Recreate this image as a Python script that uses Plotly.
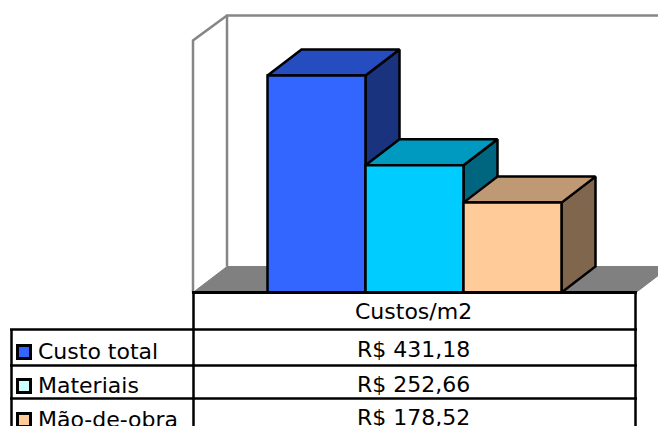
import plotly.graph_objects as go

# --- data ---
categories = ["Custo total", "Materiais", "Mão-de-obra"]
values = [431.18, 252.66, 178.52]
table_header = "Custos/m2"
table_labels = ["R$ 431,18", "R$ 252,66", "R$ 178,52"]
front_colors = ["#3366FF", "#00CCFF", "#FFCC99"]
top_colors = ["#264DBF", "#0099BF", "#BF9973"]
side_colors = ["#1A337F", "#006680", "#80664D"]
key_colors = ["#3366FF", "#CCFFFF", "#FFCC99"]

W, H = 658, 426
BASE_PX = 292.5          # pixel row of value 0
PX_PER_UNIT = 0.5035     # pixels per value unit
BAR_PX = 98.0            # pixels per category
CENTER0_PX = 316.5       # pixel column of the first bar's centre
DX_PX, DY_PX = 34.0, 26.0

def px(v):
    return (v - CENTER0_PX) / BAR_PX

def py(v):
    return (BASE_PX - v) / PX_PER_UNIT

ddx = DX_PX / BAR_PX
ddy = DY_PX / PX_PER_UNIT
LINE = dict(color="black", width=2.5)
GREY = "#868686"

fig = go.Figure()

def poly(xs, ys, fill, line=LINE):
    fig.add_trace(go.Scatter(x=xs + xs[:1], y=ys + ys[:1], mode="lines", fill="toself",
                             fillcolor=fill, line=line, hoverinfo="skip", showlegend=False))

# floor
fx0, fx1 = px(193), px(636)
poly([fx0, fx1, fx1 + ddx, fx0 + ddx], [0, 0, ddy, ddy], "#808080",
     dict(color="#808080", width=1))
# walls
wall_top_back = py(15.5)
wall_top_front = py(40.5)
fig.add_trace(go.Scatter(x=[fx0, fx0, fx0 + ddx, fx0 + ddx, fx0 + ddx, fx1 + ddx],
                         y=[0, wall_top_front, wall_top_back, ddy, wall_top_back, wall_top_back],
                         mode="lines", line=dict(color=GREY, width=2.5),
                         hoverinfo="skip", showlegend=False))

# side and top faces, back to front by category
for i, v in enumerate(values):
    l, r = i - 0.5, i + 0.5
    poly([r, r + ddx, r + ddx, r], [0, ddy, v + ddy, v], side_colors[i])
    poly([l, r, r + ddx, l + ddx], [v, v, v + ddy, v + ddy], top_colors[i])

# front faces, on overlaid axes so that they sit above all other faces
for i, v in enumerate(values):
    fig.add_trace(go.Bar(x=[i], y=[v], width=1, marker=dict(color=front_colors[i], line=LINE),
                         name=categories[i], showlegend=False, hoverinfo="skip",
                         xaxis="x2", yaxis="y2"))

# data table
rows_px = [292.5, 329.5, 365.5, 398.5]
shapes = []
def seg(x0, y0, x1, y1, w=2.5):
    shapes.append(dict(type="line", xref="paper", yref="paper", x0=x0 / W, x1=x1 / W,
                       y0=1 - y0 / H, y1=1 - y1 / H, line=dict(color="black", width=w)))
seg(193.5, rows_px[0], 193.5, H + 5)
seg(635.5, rows_px[0], 635.5, H + 5)
seg(11.5, rows_px[1], 11.5, H + 5)
seg(192, rows_px[0], 637, rows_px[0], 3)
for y in rows_px[1:]:
    seg(10, y, 637, y)

annotations = []
def label(x, y, text, anchor="center"):
    annotations.append(dict(xref="paper", yref="paper", x=x / W, y=1 - y / H, text=text,
                            showarrow=False, xanchor=anchor, yanchor="middle",
                            font=dict(family="DejaVu Sans", size=22, color="black")))
label(413, 311, table_header)
for i in range(3):
    label(413, [349, 384, 417][i], table_labels[i])
    label(36, [351, 385, 419][i], categories[i], "left")
    ky = [352, 386, 420][i]
    shapes.append(dict(type="rect", xref="paper", yref="paper", x0=17.5 / W, x1=30.5 / W,
                       y0=1 - (ky - 6.5) / H, y1=1 - (ky + 6.5) / H, fillcolor=key_colors[i],
                       line=dict(color="black", width=3)))

x_range = [px(0), px(W)]
y_range = [py(H), py(0)]
fig.update_layout(
    width=W, height=H, margin=dict(l=0, r=0, t=0, b=0),
    paper_bgcolor="white", plot_bgcolor="white", barmode="overlay",
    showlegend=False, shapes=shapes, annotations=annotations,
    xaxis=dict(range=x_range, visible=False, fixedrange=True),
    yaxis=dict(range=y_range, visible=False, fixedrange=True),
    xaxis2=dict(range=x_range, visible=False, fixedrange=True, overlaying="x", anchor="y2"),
    yaxis2=dict(range=y_range, visible=False, fixedrange=True, overlaying="y", anchor="x2"),
)
fig.write_html("out.html", config=dict(displayModeBar=False),
               post_script="document.body.style.margin='0';document.body.style.overflow='hidden';")
